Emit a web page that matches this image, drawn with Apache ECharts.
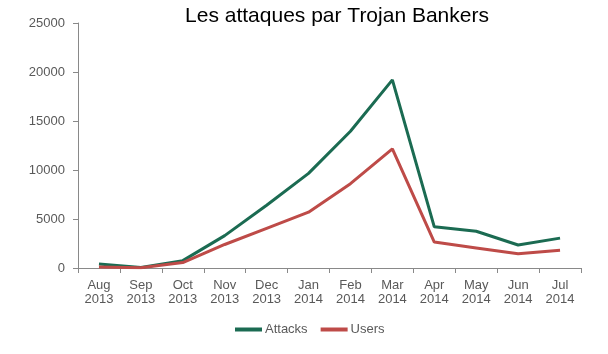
<!DOCTYPE html>
<html>
<head>
<meta charset="utf-8">
<script src="https://cdn.jsdelivr.net/npm/echarts@6/dist/echarts.min.js"></script>
<style>
  html, body { margin: 0; padding: 0; background: #fff; }
  #chart { width: 608px; height: 354px; }
</style>
</head>
<body>
<div id="chart"></div>
<script>
const months = ['Aug\n2013', 'Sep\n2013', 'Oct\n2013', 'Nov\n2013', 'Dec\n2013', 'Jan\n2014',
  'Feb\n2014', 'Mar\n2014', 'Apr\n2014', 'May\n2014', 'Jun\n2014', 'Jul\n2014'];
const attacks = [400, 50, 750, 3300, 6400, 9650, 13950, 19200, 4200, 3750, 2350, 3050];
const users = [100, 20, 550, 2400, 4050, 5700, 8600, 12150, 2650, 2050, 1450, 1800];

const font = 'Liberation Sans, Arial, sans-serif';
const axisColor = '#898989';
const labelColor = '#595959';

const myChart = echarts.init(document.getElementById('chart'));

const option = {
  animation: false,
  title: {
    text: 'Les attaques par Trojan Bankers',
    left: 332,
    top: 1,
    textAlign: 'center',
    textStyle: { fontFamily: font, fontSize: 21, fontWeight: 'normal', color: '#000' }
  },
  legend: {
    data: ['Attacks', 'Users'],
    left: 230,
    top: 318,
    icon: 'rect',
    itemWidth: 27,
    itemHeight: 4,
    itemGap: 13,
    textStyle: { fontFamily: font, fontSize: 13, color: labelColor, padding: [0, 0, 0, -2] }
  },
  grid: {
    left: 78,
    right: 27,
    top: 23,
    bottom: 86
  },
  xAxis: {
    type: 'category',
    boundaryGap: true,
    data: months,
    axisLine: { lineStyle: { color: axisColor } },
    axisTick: { show: true, length: 5, lineStyle: { color: axisColor } },
    axisLabel: {
      interval: 0,
      margin: 10,
      fontFamily: font,
      fontSize: 13,
      lineHeight: 14,
      color: labelColor
    }
  },
  yAxis: {
    type: 'value',
    min: 0,
    max: 25000,
    interval: 5000,
    axisLine: { show: true, lineStyle: { color: axisColor } },
    axisTick: { show: true, length: 5, lineStyle: { color: axisColor } },
    splitLine: { show: false },
    axisLabel: {
      fontFamily: font,
      fontSize: 13,
      color: labelColor,
      margin: 13,
      formatter: (v) => String(v)
    }
  },
  series: [
    {
      name: 'Attacks',
      type: 'line',
      data: attacks,
      symbol: 'none',
      color: '#1B6B52',
      lineStyle: { width: 3, color: '#1B6B52' }
    },
    {
      name: 'Users',
      type: 'line',
      data: users,
      symbol: 'none',
      color: '#BE4B48',
      lineStyle: { width: 3, color: '#BE4B48' }
    }
  ]
};

myChart.setOption(option);
</script>
</body>
</html>
